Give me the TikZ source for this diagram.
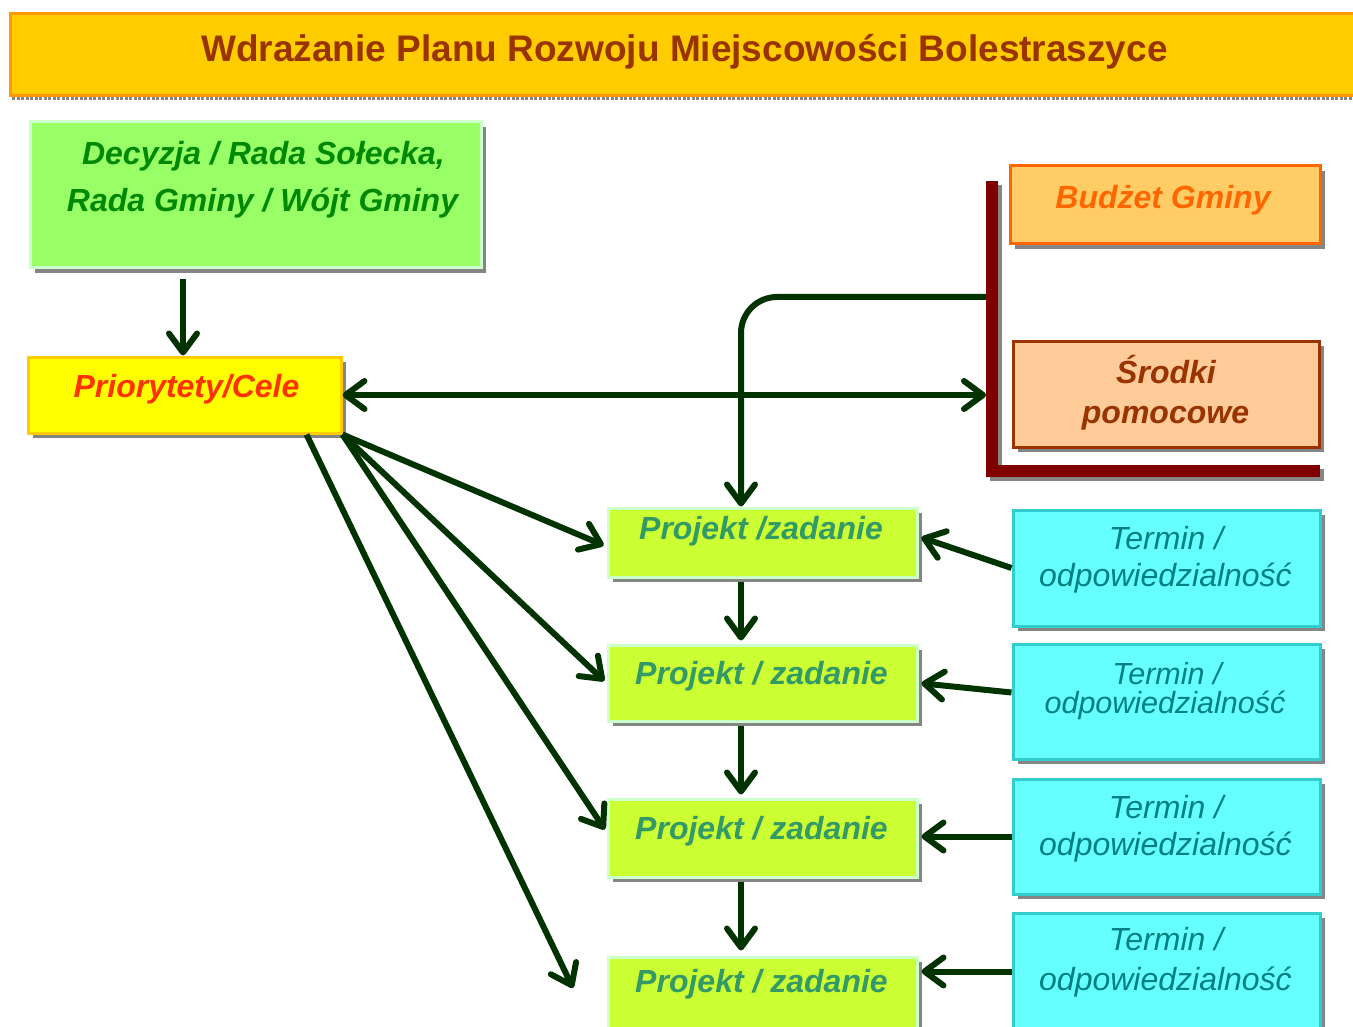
\documentclass[tikz,border=0pt]{standalone}
\usepackage{fontspec}
\setmainfont{Liberation Sans}
\usetikzlibrary{arrows.meta,shadows,calc}
\definecolor{titlefill}{HTML}{FFCC00}
\definecolor{titledraw}{HTML}{FF9900}
\definecolor{titletext}{HTML}{993300}
\definecolor{decfill}{HTML}{99FF66}
\definecolor{lightdraw}{HTML}{CCFFCC}
\definecolor{dectext}{HTML}{008800}
\definecolor{prifill}{HTML}{FFFF00}
\definecolor{pridraw}{HTML}{FFCC00}
\definecolor{pritext}{HTML}{FF3300}
\definecolor{budfill}{HTML}{FFCC66}
\definecolor{budorange}{HTML}{FF6600}
\definecolor{srofill}{HTML}{FFCC99}
\definecolor{srobrown}{HTML}{993300}
\definecolor{brkred}{HTML}{800000}
\definecolor{projfill}{HTML}{CCFF33}
\definecolor{projtext}{HTML}{339966}
\definecolor{termfill}{HTML}{66FFFF}
\definecolor{termdraw}{HTML}{33CCCC}
\definecolor{termtext}{HTML}{008080}
\definecolor{conn}{HTML}{003300}
\definecolor{shgray}{HTML}{858585}
\begin{document}
\begin{tikzpicture}[x=1pt,y=-1pt,
  cbox/.style={rectangle, draw, line width=3pt, inner sep=0pt,
    general shadow={fill=shgray, shadow xshift=5pt, shadow yshift=-5pt}},
  >={Straight Barb[length=19pt,width=28pt,line width=6pt,round]},
  connline/.style={draw=conn, line width=6pt, ->},
  txt/.style={anchor=base, inner sep=0pt, font=\fontsize{32}{38}\selectfont\bfseries\itshape},
  ttxt/.style={anchor=base, inner sep=0pt, font=\fontsize{32}{38}\selectfont\itshape, text=termtext},
  projbox/.style={cbox, fill=projfill, draw=lightdraw, minimum width=309pt},
  termbox/.style={cbox, fill=termfill, draw=termdraw, minimum width=307pt},
]
\useasboundingbox (0,0) rectangle (1353,1027);

% title
\draw[shgray, line width=3pt, dash pattern=on 3pt off 1.5pt] (12,99) -- (1353,99);
\node[rectangle, fill=titlefill, draw=titledraw, line width=3pt, inner sep=0pt,
      minimum width=1355pt, minimum height=82pt] (title) at (687.5,55) {};
\node[anchor=base, inner sep=0pt, font=\fontsize{37}{44}\selectfont\bfseries, text=titletext]
  (titlet) at (684.5,62) {Wdrażanie Planu Rozwoju Miejscowości Bolestraszyce};

% Decyzja
\node[cbox, fill=decfill, draw=lightdraw, minimum width=451pt, minimum height=146pt] (dec) at (255.5,195) {};
\node[txt, text=dectext] (dect1) at (263.5,165) {Decyzja / Rada Sołecka,};
\node[txt, text=dectext] (dect2) at (262.5,212) {Rada Gminy / Wójt Gminy};

% Priorytety
\node[cbox, fill=prifill, draw=pridraw, minimum width=313pt, minimum height=76pt] (pri) at (184.5,395) {};
\node[txt, text=pritext] (prit) at (186.5,397) {Priorytety/Cele};

% Budzet / Srodki
\node[cbox, fill=budfill, draw=budorange, minimum width=310pt, minimum height=78pt] (bud) at (1165,205) {};
\node[txt, text=budorange] (budt) at (1163,209) {Budżet Gminy};
\node[cbox, fill=srofill, draw=srobrown, minimum width=306pt, minimum height=106pt] (sro) at (1166,394) {};
\node[txt, text=srobrown] (srot1) at (1166,383) {Środki};
\node[txt, text=srobrown] (srot2) at (1165.5,423) {pomocowe};

% bracket
\draw[shgray, line width=12pt] (996,185) |- (1324,475);
\draw[brkred, line width=12pt] (992,181) |- (1320,471);
\coordinate (bj) at (986,297);

% projects
\node[projbox, minimum height=69pt] (p1) at (762.5,542.5) {};
\node[projbox, minimum height=76pt] (p2) at (762.5,683) {};
\node[projbox, minimum height=78pt] (p3) at (762.5,838) {};
\node[projbox, minimum height=78pt] (p4) at (762.5,996) {};
\node[txt, text=projtext] (p1t) at (761,539) {Projekt /zadanie};
\node[txt, text=projtext] (p2t) at (761.5,684) {Projekt / zadanie};
\node[txt, text=projtext] (p3t) at (761.5,839) {Projekt / zadanie};
\node[txt, text=projtext] (p4t) at (761.5,992) {Projekt / zadanie};

% termin
\node[termbox, minimum height=116pt] (t1) at (1166.5,568) {};
\node[termbox, minimum height=115pt] (t2) at (1166.5,701.5) {};
\node[termbox, minimum height=115pt] (t3) at (1166.5,836.5) {};
\node[termbox, minimum height=117pt] (t4) at (1166.5,971.5) {};
\node[ttxt] (t1a) at (1166,549) {Termin /};
\node[ttxt] (t1b) at (1165.5,586) {odpowiedzialność};
\node[ttxt, font=\fontsize{30.5}{36}\selectfont\itshape] (t2a) at (1167,684) {Termin /};
\node[ttxt, font=\fontsize{30.5}{36}\selectfont\itshape] (t2b) at (1165,713) {odpowiedzialność};
\node[ttxt] (t3a) at (1166,818) {Termin /};
\node[ttxt] (t3b) at (1165.5,855) {odpowiedzialność};
\node[ttxt] (t4a) at (1166,950) {Termin /};
\node[ttxt] (t4b) at (1165.5,990) {odpowiedzialność};

% connectors
\coordinate (vx) at (741,0);
\coordinate (dx) at (183,0);
\coordinate (a4end) at (573,988);

\draw[connline, shorten <=10pt] (dec.south -| dx) -- (pri.north -| dx);
\draw[connline, rounded corners=36pt] (bj) -| (p1.north -| vx);
\draw[connline, <->] (pri.east) -- (pri.east -| bj);

\draw[connline, shorten >=3pt] (pri.south east) -- ([yshift=-4pt]p1.west);
\draw[connline, shorten >=3pt] (pri.south east) -- (p2.west);
\draw[connline, shorten >=3pt] (pri.south east) -- ([yshift=6pt]p3.west);
\draw[connline] ([xshift=-36pt]pri.south east) -- (a4end);

\draw[connline, shorten <=3pt, shorten >=3pt] (p1.south -| vx) -- (p2.north -| vx);
\draw[connline, shorten <=3pt, shorten >=3pt] (p2.south -| vx) -- (p3.north -| vx);
\draw[connline, shorten <=3pt, shorten >=5pt] (p3.south -| vx) -- (p4.north -| vx);

\draw[connline, shorten >=3pt] (t1.west) -- ([yshift=6pt]p1.east);
\draw[connline, shorten >=3pt] ([yshift=9pt]t2.west) -- (p2.east);
\draw[connline, shorten >=3pt] (t3.west) -- (t3.west -| p3.east);
\draw[connline, shorten >=3pt] (t4.west) -- (t4.west -| p4.east);
\end{tikzpicture}
\end{document}
